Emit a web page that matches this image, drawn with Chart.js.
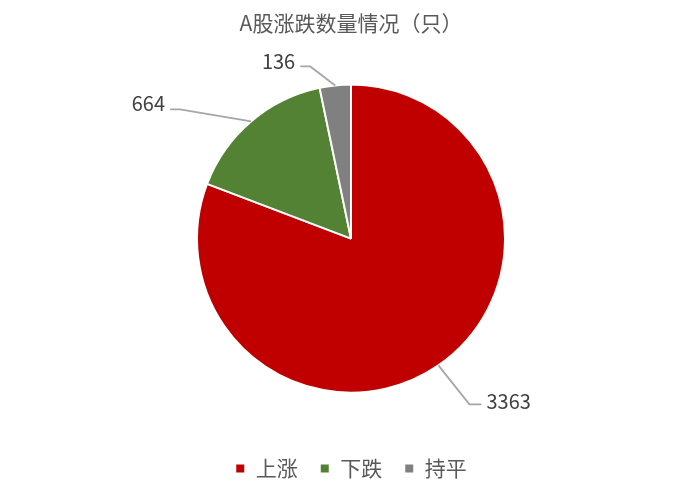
<!DOCTYPE html>
<html>
<head>
<meta charset="utf-8">
<script src="https://cdn.jsdelivr.net/npm/chart.js@4"></script>
<style>
  html, body { margin: 0; padding: 0; background: #fff; }
  #wrap { width: 693px; height: 493px; }
</style>
</head>
<body>
<div id="wrap"><canvas id="pieChart"></canvas></div>
<script>
var categories = ['上涨', '下跌', '持平'];
var counts = [3363, 664, 136];
var sliceColors = ['#C00000', '#548235', '#808080'];

// leader line bend point relative to the slice edge, and which side the text goes
var labelOffsets = [
  { dx: 31, dy: 39, side: 'right', lift: 3 },
  { dx: -71, dy: -12, side: 'left', lift: 6 },
  { dx: -25, dy: -19, side: 'left', lift: 5 }
];

var FONT = '"Noto Sans CJK SC", "Noto Sans", sans-serif';

var leaderLabels = {
  id: 'leaderLabels',
  afterDatasetsDraw: function (chart) {
    var ctx = chart.ctx;
    var meta = chart.getDatasetMeta(0);
    ctx.save();
    meta.data.forEach(function (arc, i) {
      var p = arc.getProps(['x', 'y', 'startAngle', 'endAngle', 'outerRadius'], true);
      var mid = (p.startAngle + p.endAngle) / 2;
      var ex = p.x + Math.cos(mid) * p.outerRadius;
      var ey = p.y + Math.sin(mid) * p.outerRadius;
      var off = labelOffsets[i];
      var bx = ex + off.dx;
      var by = ey + off.dy;
      var tail = off.side === 'right' ? 12 : -10;
      ctx.strokeStyle = '#A6A6A6';
      ctx.lineWidth = 1.8;
      ctx.beginPath();
      ctx.moveTo(ex, ey);
      ctx.lineTo(bx, by);
      ctx.lineTo(bx + tail, by);
      ctx.stroke();
      ctx.fillStyle = '#404040';
      ctx.font = '20px ' + FONT;
      ctx.textBaseline = 'middle';
      ctx.textAlign = off.side === 'right' ? 'left' : 'right';
      ctx.fillText(String(counts[i]), bx + tail + (off.side === 'right' ? 5 : -5), by - off.lift);
    });
    ctx.restore();
  }
};

new Chart(document.getElementById('pieChart'), {
  type: 'pie',
  data: {
    labels: categories,
    datasets: [{
      data: counts,
      backgroundColor: sliceColors,
      borderColor: '#ffffff',
      borderWidth: 2,
      radius: 154
    }]
  },
  options: {
    responsive: true,
    maintainAspectRatio: false,
    animation: false,
    radius: 154,
    layout: { padding: { left: 9, right: 0, bottom: 4 } },
    plugins: {
      title: {
        display: true,
        text: 'A股涨跌数量情况（只）',
        color: '#595959',
        font: { family: FONT, size: 21, weight: 'normal' },
        padding: { top: 10, bottom: 6 }
      },
      legend: {
        position: 'bottom',
        labels: {
          color: '#595959',
          font: { family: FONT, size: 21 },
          boxWidth: 10,
          boxHeight: 10,
          padding: 22
        }
      },
      tooltip: { enabled: false }
    }
  },
  plugins: [leaderLabels]
});
</script>
</body>
</html>
